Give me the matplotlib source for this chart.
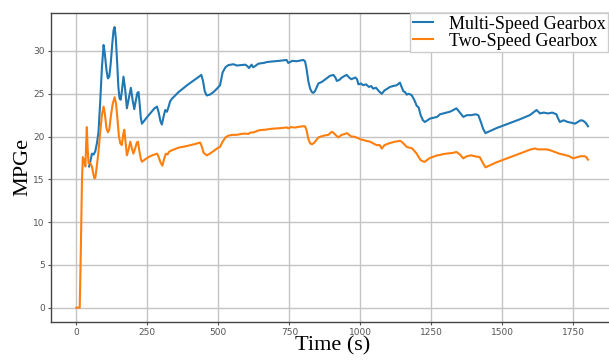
import numpy as np
import matplotlib.pyplot as plt

# drive-cycle fuel economy, time in seconds
t_multi = [45, 50, 55, 61, 67, 73, 78, 84, 90, 96, 100, 106, 111, 116, 121, 127, 131, 135, 139, 144,
           148, 152, 156, 160, 166, 172, 178, 185, 192, 198, 204, 210, 215, 219, 223, 227, 231, 245,
           260, 275, 284, 290, 296, 301, 307, 313, 319, 325, 330, 336, 360, 390, 415, 440, 446, 452,
           459, 470, 483, 495, 506, 515, 525, 535, 545, 553, 565, 580, 595, 603, 608, 612, 617, 622,
           630, 640, 647, 660, 670, 682, 700, 715, 729, 740, 746, 752, 760, 775, 790, 799, 805, 810,
           817, 823, 829, 834, 840, 852, 865, 881, 893, 905, 912, 917, 925, 935, 945, 952, 960, 968,
           975, 982, 988, 993, 1002, 1010, 1020, 1030, 1038, 1045, 1055, 1065, 1075, 1085, 1095, 1104,
           1115, 1128, 1139, 1145, 1151, 1157, 1163, 1170, 1180, 1186, 1192, 1198, 1205, 1212, 1220,
           1227, 1236, 1245, 1257, 1270, 1280, 1291, 1303, 1315, 1327, 1338, 1350, 1362, 1375, 1390,
           1405, 1415, 1425, 1432, 1440, 1480, 1520, 1560, 1596, 1608, 1620, 1632, 1645, 1660, 1675,
           1690, 1696, 1702, 1715, 1730, 1745, 1755, 1765, 1775, 1784, 1793, 1801]
mpge_multi = [16.5, 17.2, 18.0, 17.9, 18.3, 19.3, 20.5, 24.0, 28.0, 30.7, 29.8, 27.8, 26.8, 27.0, 28.5,
              31.0, 32.4, 32.8, 31.5, 28.5, 25.8, 24.5, 24.3, 25.2, 27.0, 25.5, 23.3, 24.5, 25.7, 24.3,
              23.2, 24.3, 25.1, 25.2, 23.8, 22.2, 21.5, 22.1, 22.7, 23.3, 23.5, 22.8, 21.8, 21.4, 22.3,
              23.1, 22.9, 23.5, 24.1, 24.4, 25.2, 26.0, 26.6, 27.2, 26.5, 25.3, 24.8, 24.9, 25.2, 25.6,
              26.0, 27.5, 28.1, 28.35, 28.4, 28.45, 28.3, 28.35, 28.4, 28.2, 28.0, 28.2, 28.4, 28.1,
              28.25, 28.5, 28.55, 28.6, 28.7, 28.75, 28.8, 28.85, 28.9, 28.95, 28.6, 28.7, 28.85, 28.8,
              28.9, 28.95, 28.8, 28.0, 26.4, 25.6, 25.2, 25.1, 25.3, 26.2, 26.4, 26.8, 27.1, 27.2, 26.9,
              26.5, 26.6, 26.9, 27.1, 27.2, 26.9, 26.7, 26.8, 26.9, 26.7, 26.1, 26.2, 26.0, 26.1, 25.8,
              25.9, 25.6, 25.7, 25.3, 25.0, 25.4, 25.6, 25.8, 25.9, 26.0, 26.3, 25.8, 25.3, 25.2, 24.9,
              25.0, 24.85, 24.5, 24.1, 23.6, 23.4, 22.5, 21.9, 21.7, 21.9, 22.1, 22.2, 22.3, 22.6, 22.7,
              22.8, 22.9, 23.1, 23.3, 22.8, 22.3, 22.5, 22.5, 22.6, 22.5, 21.6, 20.9, 20.4, 21.0, 21.5,
              22.0, 22.5, 22.8, 23.1, 22.7, 22.8, 22.7, 22.8, 22.6, 22.1, 21.7, 21.9, 21.7, 21.6, 21.5,
              21.7, 21.9, 21.85, 21.6, 21.2]

t_two = [0, 12, 16, 20, 23, 27, 32, 35, 37, 40, 43, 49, 55, 60, 64, 67, 72, 78, 84, 90, 96, 100, 106,
         111, 116, 122, 128, 135, 140, 145, 150, 155, 160, 165, 169, 173, 178, 184, 190, 195, 201, 207,
         213, 217, 222, 227, 231, 245, 260, 275, 284, 290, 296, 303, 309, 315, 321, 326, 336, 360, 390,
         415, 436, 442, 448, 459, 470, 483, 495, 506, 515, 525, 535, 550, 565, 580, 595, 605, 612, 625,
         640, 647, 665, 685, 705, 725, 741, 746, 755, 770, 785, 799, 805, 810, 817, 823, 830, 838, 852,
         861, 870, 887, 899, 905, 912, 922, 934, 945, 952, 960, 968, 975, 985, 993, 999, 1010, 1020,
         1034, 1045, 1057, 1068, 1075, 1085, 1100, 1122, 1139, 1145, 1151, 1157, 1163, 1172, 1180, 1188,
         1198, 1205, 1212, 1220, 1227, 1236, 1245, 1257, 1270, 1280, 1291, 1303, 1315, 1327, 1338, 1350,
         1362, 1375, 1390, 1409, 1420, 1428, 1440, 1480, 1520, 1560, 1600, 1614, 1625, 1640, 1655, 1668,
         1684, 1700, 1719, 1735, 1749, 1765, 1775, 1789, 1795, 1801]
mpge_two = [0.0, 0.0, 7.0, 15.0, 17.6, 17.2, 16.5, 19.5, 21.1, 18.5, 16.9, 16.9, 16.5, 15.6, 15.1, 15.2,
            16.5, 18.2, 20.5, 22.5, 23.5, 22.8, 21.0, 20.5, 20.8, 22.5, 23.8, 24.6, 23.8, 22.0, 20.0,
            19.2, 19.0, 20.2, 20.8, 19.5, 17.8, 18.5, 19.4, 18.7, 18.0, 18.6, 19.3, 19.4, 18.3, 17.4,
            17.05, 17.4, 17.7, 17.9, 18.0, 17.6, 17.0, 16.6, 17.4, 18.0, 17.9, 18.2, 18.4, 18.7, 18.9,
            19.1, 19.3, 18.8, 18.1, 17.8, 18.0, 18.3, 18.6, 18.8, 19.4, 19.9, 20.1, 20.2, 20.2, 20.3,
            20.35, 20.3, 20.45, 20.5, 20.7, 20.75, 20.8, 20.9, 20.95, 21.0, 21.07, 20.95, 21.1, 21.05,
            21.15, 21.2, 21.2, 20.8, 19.7, 19.2, 19.1, 19.3, 19.9, 20.0, 20.1, 20.2, 20.55, 20.45, 20.2,
            19.9, 20.2, 20.3, 20.4, 20.2, 20.0, 20.0, 19.9, 19.8, 19.7, 19.6, 19.5, 19.4, 19.2, 19.0,
            19.0, 18.6, 19.0, 19.2, 19.4, 19.5, 19.4, 19.2, 19.0, 18.8, 18.7, 18.65, 18.4, 18.0, 17.6,
            17.25, 17.1, 17.05, 17.3, 17.5, 17.65, 17.8, 17.85, 17.95, 18.0, 18.05, 18.1, 18.2, 17.9,
            17.45, 17.7, 17.8, 17.65, 17.6, 17.1, 16.4, 17.0, 17.5, 18.0, 18.5, 18.6, 18.5, 18.5, 18.5,
            18.4, 18.2, 18.0, 17.85, 17.7, 17.45, 17.6, 17.7, 17.7, 17.6, 17.3]

series_labels = ['Multi-Speed Gearbox', 'Two-Speed Gearbox']
x_ticks = [0, 250, 500, 750, 1000, 1250, 1500, 1750]
y_ticks = [0, 5, 10, 15, 20, 25, 30]

serif = ['Liberation Serif', 'DejaVu Serif']

fig = plt.figure(figsize=(6.09, 3.6), dpi=100)
ax = fig.add_axes([0.0833, 0.1064, 0.9242, 0.8575])

ax.plot(t_multi, mpge_multi, color='#1f77b4', lw=1.5, label=series_labels[0])
ax.plot(t_two, mpge_two, color='#ff7f0e', lw=1.5, label=series_labels[1])

ax.set_xticks(x_ticks)
ax.set_yticks(y_ticks)
ax.grid(True, color='#c4c4c4', lw=1.0)
ax.set_axisbelow(True)
for s in ax.spines.values():
    s.set_color('#444444')
    s.set_linewidth(1.0)
ax.tick_params(length=2.2, width=0.8, color='#555555', labelsize=6.5,
               labelcolor='#555555', pad=2)

ax.set_xlabel('Time (s)', family=serif, fontsize=16, labelpad=0)
ax.set_ylabel('MPGe', family=serif, fontsize=16, labelpad=1)

# keep the legend text inside the saved canvas (axes runs slightly past it)
leg = ax.legend(loc='upper right', bbox_to_anchor=(0.9905, 1), borderaxespad=0,
                prop={'family': serif, 'size': 13}, labelspacing=0.0,
                handlelength=1.1, handletextpad=0.9, borderpad=0.15,
                fancybox=False, framealpha=1, edgecolor='#cccccc')

fig.savefig('out.png', dpi=100)
